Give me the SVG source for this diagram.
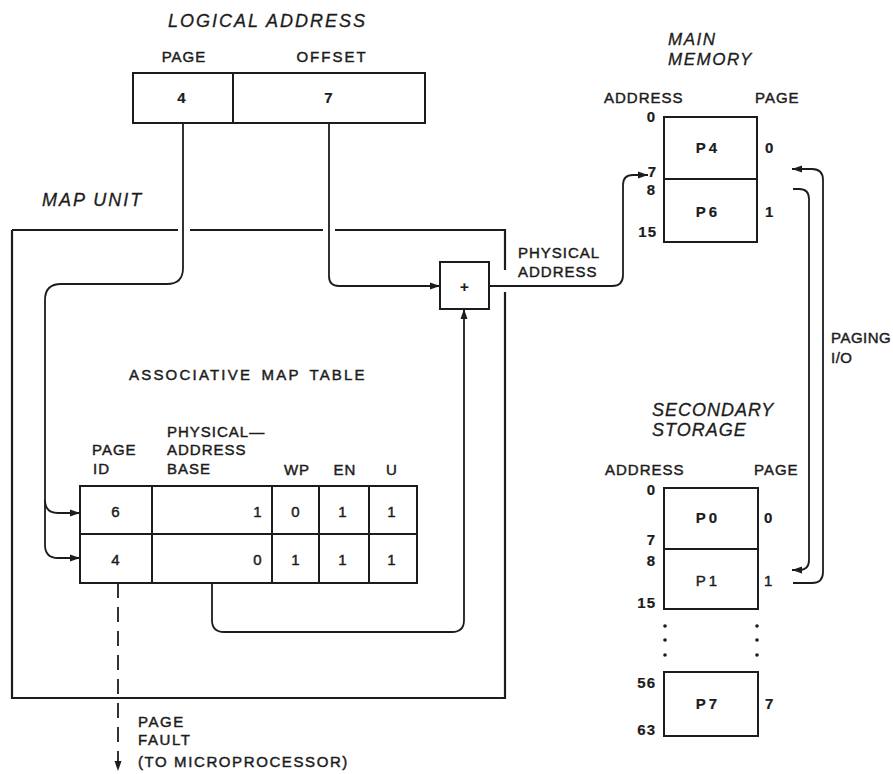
<svg xmlns="http://www.w3.org/2000/svg" width="893" height="774" viewBox="0 0 893 774">
<style>
text{font-family:"Liberation Sans",Arial,sans-serif;font-size:15px;fill:#1c1c1c;stroke:#1c1c1c;stroke-width:0.45px;letter-spacing:1px}
.ttl{font-style:italic;font-size:18px;letter-spacing:2px;stroke-width:0.3px}
.b{font-weight:bold;stroke-width:0.2px}
.m{text-anchor:middle}
.e{text-anchor:end}
.box{fill:none;stroke:#1c1c1c;stroke-width:2.2}
.cell{fill:none;stroke:#1c1c1c;stroke-width:2}
.wire{fill:none;stroke:#1c1c1c;stroke-width:1.8}
.dash{stroke-dasharray:15 9}
</style>
<defs>
<marker id="ah" markerUnits="userSpaceOnUse" markerWidth="11" markerHeight="8" refX="10" refY="4" orient="auto">
<path d="M0,0.5 L10,4 L0,7.5 z" fill="#1c1c1c"/>
</marker>
</defs>
<rect width="893" height="774" fill="#ffffff"/>

<g id="logical-address">
<text class="ttl" x="168" y="27">LOGICAL ADDRESS</text>
<text class="m" x="184" y="62">PAGE</text>
<text class="m" x="332" y="62" style="letter-spacing:2px">OFFSET</text>
<rect class="cell" x="133" y="73" width="292" height="50"/>
<line class="cell" x1="233" y1="73" x2="233" y2="123"/>
<text class="b m" x="182" y="103">4</text>
<text class="b m" x="329" y="103">7</text>
</g>

<g id="map-unit">
<text class="ttl" x="42" y="206">MAP UNIT</text>
<path class="box" d="M12,230 H178 M190,230 H323 M335,230 H505 V270 M505,292 V698 H12 V230"/>
</g>

<g id="adder">
<rect class="cell" x="440" y="262" width="49" height="47"/>
<text class="b m" x="465" y="292">+</text>
</g>

<g id="associative-map-table">
<text x="129" y="380" style="letter-spacing:2.2px;word-spacing:3px">ASSOCIATIVE MAP TABLE</text>
<text x="92" y="455">PAGE</text>
<text x="93" y="474">ID</text>
<text x="167" y="437">PHYSICAL—</text>
<text x="167" y="455">ADDRESS</text>
<text x="167" y="474">BASE</text>
<text class="m" x="297" y="475">WP</text>
<text class="m" x="345" y="475">EN</text>
<text class="m" x="392" y="475">U</text>
<rect class="cell" x="80" y="486" width="337" height="97"/>
<path class="cell" d="M80,534 H417 M152,486 V583 M272,486 V583 M319,486 V583 M369,486 V583"/>
<text class="m" x="116" y="517">6</text>
<text class="m" x="258" y="517">1</text>
<text class="m" x="296" y="517">0</text>
<text class="m" x="343" y="517">1</text>
<text class="m" x="392" y="517">1</text>
<text class="m" x="116" y="565">4</text>
<text class="m" x="258" y="565">0</text>
<text class="m" x="296" y="565">1</text>
<text class="m" x="343" y="565">1</text>
<text class="m" x="392" y="565">1</text>
</g>

<g id="main-memory">
<text class="ttl" x="668" y="45" style="font-size:17px;letter-spacing:1.5px">MAIN</text>
<text class="ttl" x="668" y="65" style="font-size:17px;letter-spacing:1.5px">MEMORY</text>
<text x="604" y="103">ADDRESS</text>
<text x="755" y="103">PAGE</text>
<rect class="cell" x="664" y="117" width="93" height="125"/>
<line class="cell" x1="664" y1="179" x2="757" y2="179"/>
<text class="b m" x="708" y="153" style="letter-spacing:3px">P4</text>
<text class="b m" x="708" y="217" style="letter-spacing:3px">P6</text>
<text class="b e" x="656" y="122">0</text>
<text class="b e" x="657" y="177">7</text>
<text class="b e" x="656" y="195">8</text>
<text class="b e" x="657" y="237">15</text>
<text class="b" x="765" y="153">0</text>
<text class="b" x="765" y="217">1</text>
</g>

<g id="secondary-storage">
<text class="ttl" x="652" y="416" style="letter-spacing:1px">SECONDARY</text>
<text class="ttl" x="652" y="436" style="letter-spacing:1px">STORAGE</text>
<text x="605" y="475">ADDRESS</text>
<text x="754" y="475">PAGE</text>
<rect class="cell" x="664" y="488" width="94" height="121"/>
<line class="cell" x1="664" y1="549" x2="758" y2="549"/>
<text class="b m" x="708" y="523" style="letter-spacing:3px">P0</text>
<text class="m" x="708" y="586" style="letter-spacing:3px">P1</text>
<text class="b e" x="656" y="495">0</text>
<text class="b e" x="656" y="545">7</text>
<text class="b e" x="656" y="566">8</text>
<text class="b e" x="656" y="608">15</text>
<text class="b" x="764" y="523">0</text>
<text x="764" y="586">1</text>
<g fill="#1c1c1c">
<circle cx="665" cy="626" r="1.8"/><circle cx="665" cy="640" r="1.8"/><circle cx="665" cy="655" r="1.8"/>
<circle cx="757" cy="626" r="1.8"/><circle cx="757" cy="640" r="1.8"/><circle cx="757" cy="655" r="1.8"/>
</g>
<rect class="cell" x="664" y="672" width="94" height="64"/>
<text class="b m" x="708" y="709" style="letter-spacing:3px">P7</text>
<text class="b e" x="656" y="688">56</text>
<text class="b e" x="656" y="735">63</text>
<text class="b" x="765" y="709">7</text>
</g>

<g id="connectors">
<path class="wire" d="M183,123 V268 Q183,284 167,284 H61 Q45,284 45,300 V545 Q45,558 58,558 H80" marker-end="url(#ah)"/>
<path class="wire" d="M45,500 Q45,513 58,513 H80" marker-end="url(#ah)"/>
<path class="wire" d="M329,123 V276 Q329,286 339,286 H440" marker-end="url(#ah)"/>
<path class="wire" d="M489,286 H612 Q623,286 623,275 V185 Q623,175 633,175 H648" marker-end="url(#ah)"/>
<path class="wire" d="M212,583 V620 Q212,632 224,632 H452 Q464,632 464,620 V309" marker-end="url(#ah)"/>
<path class="wire dash" d="M118,583 V771" marker-end="url(#ah)"/>
<path class="wire" d="M793,583 H812 Q823,583 823,572 V180 Q823,169 812,169 H792" marker-end="url(#ah)"/>
<path class="wire" d="M793,189 H799 Q809,189 809,199 V560 Q809,570 799,570 H792" marker-end="url(#ah)"/>
<text x="518" y="258">PHYSICAL</text>
<text x="518" y="277">ADDRESS</text>
<text x="831" y="343" style="letter-spacing:0.5px">PAGING</text>
<text x="831" y="363" style="letter-spacing:0.5px">I/O</text>
<text x="138" y="727" style="letter-spacing:1.6px">PAGE</text>
<text x="138" y="745" style="letter-spacing:1.6px">FAULT</text>
<text x="138" y="767" style="letter-spacing:1.6px">(TO MICROPROCESSOR)</text>
</g>
</svg>
